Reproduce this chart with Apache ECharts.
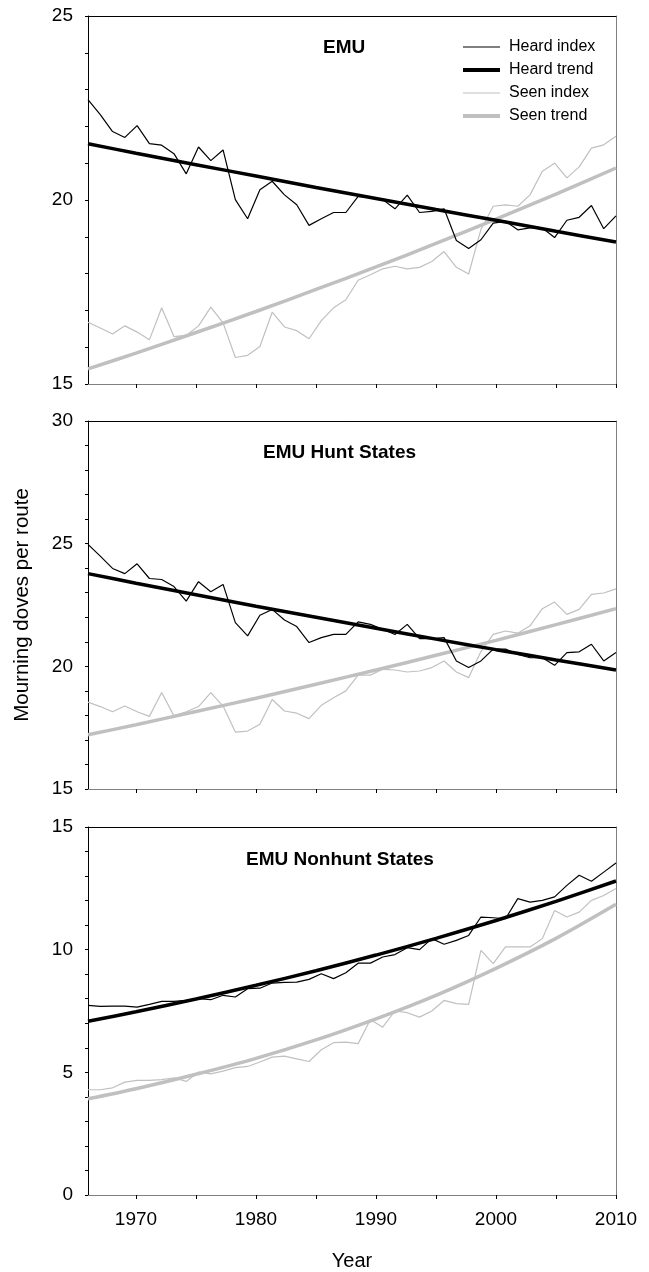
<!DOCTYPE html>
<html>
<head>
<meta charset="utf-8">
<title>Mourning doves per route</title>
<script src="https://cdn.jsdelivr.net/npm/echarts@6.0.0/dist/echarts.min.js"></script>
<style>
  html, body { margin: 0; padding: 0; background: #fff; }
  #chart { width: 649px; height: 1272px; }
</style>
</head>
<body>
<div id="chart"></div>
<script>
// survey years for the yearly index points
var surveyYears = [1966, 1967, 1968, 1969, 1970, 1971, 1972, 1973, 1974, 1975,
  1976, 1977, 1978, 1979, 1980, 1981, 1982, 1983, 1984, 1985,
  1986, 1987, 1988, 1989, 1990, 1991, 1992, 1993, 1994, 1995,
  1996, 1997, 1998, 1999, 2000, 2001, 2002, 2003, 2004, 2005,
  2006, 2007, 2008, 2009];
var trendYears = [1966, 1970, 1975, 1980, 1985, 1990, 1995, 2000, 2005, 2010];
var tickYears = [1970, 1975, 1980, 1985, 1990, 1995, 2000, 2005, 2010];
var labelYears = [1970, 1980, 1990, 2000, 2010];

// EMU
var emuHeard = [22.73, 22.32, 21.86, 21.70, 22.02, 21.53, 21.49, 21.26, 20.71, 21.44,
  21.07, 21.36, 20.01, 19.49, 20.28, 20.51, 20.14, 19.87, 19.31, 19.49,
  19.66, 19.66, 20.10, 20.08, 20.01, 19.76, 20.13, 19.66, 19.69, 19.76,
  18.90, 18.68, 18.92, 19.37, 19.42, 19.19, 19.24, 19.24, 18.98, 19.45,
  19.53, 19.85, 19.22, 19.57];
var emuSeen = [16.68, 16.52, 16.36, 16.58, 16.41, 16.20, 17.07, 16.29, 16.32, 16.58,
  17.09, 16.66, 15.72, 15.78, 16.02, 16.95, 16.55, 16.45, 16.23, 16.72,
  17.07, 17.29, 17.82, 17.97, 18.13, 18.20, 18.13, 18.17, 18.33, 18.60,
  18.17, 17.99, 19.20, 19.83, 19.87, 19.83, 20.14, 20.78, 21.00, 20.60,
  20.90, 21.41, 21.50, 21.73];
var emuHeardTrend = [21.53, 21.27, 20.96, 20.65, 20.34, 20.04, 19.74, 19.45, 19.15, 18.86];
var emuSeenTrend = [15.41, 15.84, 16.40, 16.97, 17.57, 18.18, 18.82, 19.48, 20.16, 20.87];

// EMU Hunt States
var huntHeard = [24.97, 24.49, 23.99, 23.78, 24.18, 23.58, 23.54, 23.25, 22.66, 23.45,
  23.04, 23.34, 21.78, 21.24, 22.08, 22.32, 21.89, 21.62, 20.97, 21.17,
  21.30, 21.30, 21.81, 21.71, 21.51, 21.30, 21.71, 21.13, 21.13, 21.17,
  20.22, 19.95, 20.22, 20.70, 20.70, 20.49, 20.35, 20.35, 20.04, 20.56,
  20.59, 20.90, 20.22, 20.56];
var huntSeen = [18.54, 18.36, 18.15, 18.38, 18.15, 17.96, 18.93, 17.98, 18.15, 18.36,
  18.93, 18.38, 17.32, 17.36, 17.64, 18.65, 18.18, 18.09, 17.87, 18.41,
  18.72, 19.00, 19.64, 19.64, 19.88, 19.85, 19.77, 19.81, 19.95, 20.22,
  19.77, 19.54, 20.60, 21.30, 21.44, 21.35, 21.65, 22.35, 22.62, 22.12,
  22.32, 22.93, 22.99, 23.16];
var huntHeardTrend = [23.78, 23.39, 22.92, 22.45, 22.00, 21.55, 21.11, 20.68, 20.26, 19.85];
var huntSeenTrend = [17.21, 17.62, 18.16, 18.70, 19.27, 19.85, 20.45, 21.06, 21.70, 22.35];

// EMU Nonhunt States
var nonhuntHeard = [7.73, 7.69, 7.70, 7.70, 7.66, 7.77, 7.89, 7.89, 7.93, 8.00,
  7.96, 8.14, 8.07, 8.41, 8.43, 8.64, 8.67, 8.68, 8.79, 9.02,
  8.82, 9.06, 9.45, 9.45, 9.70, 9.80, 10.08, 10.00, 10.45, 10.22,
  10.38, 10.58, 11.33, 11.30, 11.26, 12.08, 11.94, 12.01, 12.15, 12.62,
  13.03, 12.79, 13.16, 13.53];
var nonhuntSeen = [4.29, 4.29, 4.37, 4.60, 4.67, 4.67, 4.70, 4.78, 4.63, 5.01,
  4.94, 5.05, 5.19, 5.24, 5.42, 5.62, 5.66, 5.55, 5.44, 5.92,
  6.21, 6.23, 6.17, 7.15, 6.84, 7.50, 7.43, 7.25, 7.50, 7.93,
  7.80, 7.77, 9.97, 9.43, 10.11, 10.11, 10.11, 10.45, 11.60, 11.33,
  11.53, 12.01, 12.21, 12.49];
var nonhuntHeardTrend = [7.08, 7.47, 7.99, 8.55, 9.14, 9.78, 10.46, 11.19, 11.97, 12.80];
var nonhuntSeenTrend = [3.92, 4.33, 4.92, 5.57, 6.32, 7.18, 8.14, 9.24, 10.46, 11.85];

var panels = [
  { title: 'EMU', min: 15, max: 25, heard: emuHeard, seen: emuSeen, heardTrend: emuHeardTrend, seenTrend: emuSeenTrend },
  { title: 'EMU Hunt States', min: 15, max: 30, heard: huntHeard, seen: huntSeen, heardTrend: huntHeardTrend, seenTrend: huntSeenTrend },
  { title: 'EMU Nonhunt States', min: 0, max: 15, heard: nonhuntHeard, seen: nonhuntSeen, heardTrend: nonhuntHeardTrend, seenTrend: nonhuntSeenTrend }
];

var font = 'Liberation Sans, Arial, sans-serif';
var seenColor = '#c0c0c0';
var indexWidth = 1.2;
var trendWidth = 3.5;
var gridTop = [16, 421, 827];
var titleLeft = [323, 263, 246];
var titleTop = [38, 443, 850];

function pairs(xs, ys) {
  return xs.map(function (x, k) { return [x, ys[k]]; });
}

var grid = [], xAxis = [], yAxis = [], series = [], title = [];

panels.forEach(function (p, i) {
  grid.push({ left: 88, right: 33, top: gridTop[i], height: 368 });

  title.push({
    text: p.title, left: titleLeft[i], top: titleTop[i], padding: 0,
    textStyle: { fontSize: 19, fontWeight: 'bold', color: '#000', fontFamily: font }
  });

  // visible year axis
  xAxis.push({
    gridIndex: i, type: 'value', min: 1966, max: 2010, position: 'bottom',
    axisLine: { show: true, lineStyle: { color: '#808080', width: 1 } },
    axisTick: { show: true, customValues: tickYears, length: 4, lineStyle: { color: '#000' } },
    axisLabel: {
      show: i === 2, customValues: labelYears, fontSize: 19, color: '#000', margin: 15, fontFamily: font,
      formatter: function (v) { return String(v); }
    },
    splitLine: { show: false },
    name: i === 2 ? 'Year' : '', nameLocation: 'middle', nameGap: 56,
    nameTextStyle: { fontSize: 20, color: '#000', fontFamily: font }
  });
  // top frame line
  xAxis.push({
    gridIndex: i, type: 'value', min: 1966, max: 2010, position: 'top',
    axisLine: { show: true, onZero: false, lineStyle: { color: '#000', width: 1 } },
    axisTick: { show: false }, axisLabel: { show: false }, splitLine: { show: false }
  });
  // yearly index points, spread across the frame
  xAxis.push({
    gridIndex: i, type: 'category', data: surveyYears, boundaryGap: false, show: false
  });

  yAxis.push({
    gridIndex: i, type: 'value', min: p.min, max: p.max, interval: 5, position: 'left',
    axisLine: { show: true, onZero: false, lineStyle: { color: '#000', width: 1 } },
    axisTick: { show: true, length: 3, lineStyle: { color: '#000' } },
    minorTick: { show: true, splitNumber: 5, length: 3, lineStyle: { color: '#000' } },
    axisLabel: { fontSize: 19, color: '#000', margin: 15, fontFamily: font },
    splitLine: { show: false },
    name: i === 1 ? 'Mourning doves per route' : '', nameLocation: 'middle', nameGap: 55,
    nameTextStyle: { fontSize: 20.5, color: '#000', fontFamily: font }
  });
  yAxis.push({
    gridIndex: i, type: 'value', min: p.min, max: p.max, interval: 5, position: 'right',
    axisLine: { show: true, onZero: false, lineStyle: { color: '#808080', width: 1 } },
    axisTick: { show: false }, axisLabel: { show: false }, splitLine: { show: false }
  });

  series.push({
    name: 'Seen index', type: 'line', xAxisIndex: 3 * i + 2, yAxisIndex: 2 * i,
    data: p.seen, symbol: 'none', color: seenColor,
    lineStyle: { color: seenColor, width: indexWidth }
  });
  series.push({
    name: 'Seen trend', type: 'line', xAxisIndex: 3 * i, yAxisIndex: 2 * i,
    data: pairs(trendYears, p.seenTrend), symbol: 'none', smooth: 0.3, color: seenColor,
    lineStyle: { color: seenColor, width: trendWidth }
  });
  series.push({
    name: 'Heard index', type: 'line', xAxisIndex: 3 * i + 2, yAxisIndex: 2 * i,
    data: p.heard, symbol: 'none', color: '#000',
    lineStyle: { color: '#000', width: indexWidth }
  });
  series.push({
    name: 'Heard trend', type: 'line', xAxisIndex: 3 * i, yAxisIndex: 2 * i,
    data: pairs(trendYears, p.heardTrend), symbol: 'none', smooth: 0.3, color: '#000',
    lineStyle: { color: '#000', width: trendWidth }
  });
});

var option = {
  animation: false,
  textStyle: { fontFamily: font },
  title: title,
  legend: {
    data: [
      { name: 'Heard index', lineStyle: { width: indexWidth, color: '#000' } },
      { name: 'Heard trend', lineStyle: { width: 4, color: '#000' } },
      { name: 'Seen index', lineStyle: { width: indexWidth, color: seenColor } },
      { name: 'Seen trend', lineStyle: { width: 4, color: seenColor } }
    ],
    orient: 'vertical', left: 461, top: 39, padding: 0,
    itemWidth: 37, itemHeight: 14, itemGap: 7, selectedMode: false,
    itemStyle: { opacity: 0 },
    textStyle: { fontSize: 16, color: '#000', fontFamily: font, padding: [0, 0, 0, 4] }
  },
  grid: grid,
  xAxis: xAxis,
  yAxis: yAxis,
  series: series
};

var myChart = echarts.init(document.getElementById('chart'));
myChart.setOption(option);
</script>
</body>
</html>
